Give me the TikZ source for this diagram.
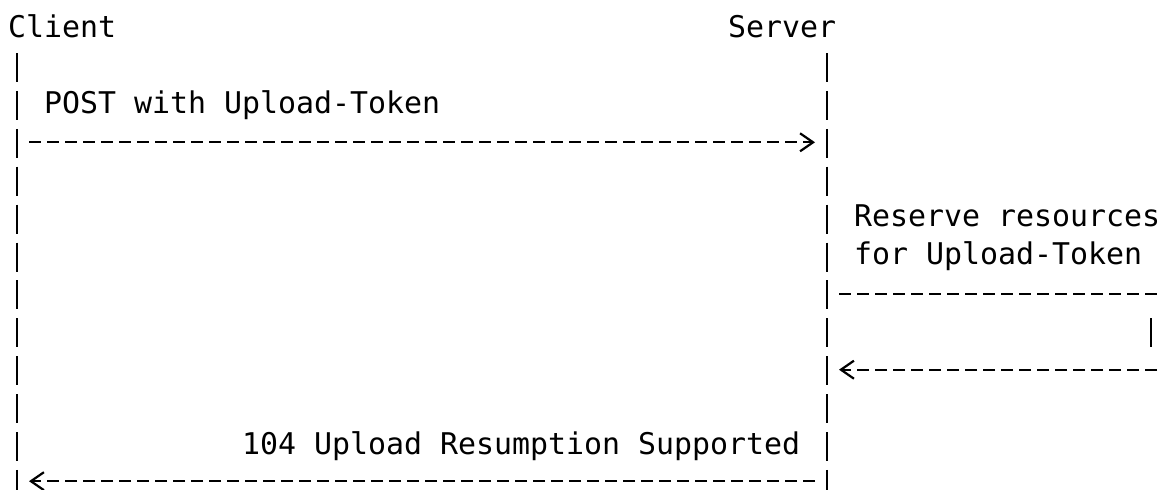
\documentclass[tikz,border=0pt]{standalone}
\usepackage{fontspec}
\newfontfamily\asciifont{DejaVu Sans Mono}
\usetikzlibrary{arrows.meta}
\begin{document}
\begin{tikzpicture}[x=1pt,y=-1pt,
  lbl/.style={font=\asciifont\fontsize{29.9}{36}\selectfont, inner sep=0pt, anchor=base west, text=black},
  lifeline/.style={draw=black, line width=2.8pt, dash pattern=on 29pt off 8.9pt},
  bar/.style={draw=black, line width=2.8pt},
  msg/.style={draw=black, line width=2.2pt, dash pattern=on 12pt off 6pt},
  tipend/.style={-{Straight Barb[length=13pt,width=18pt,line width=2.2pt]}}
]
\useasboundingbox (0,0) rectangle (1168,490);
\fill[white] (0,0) rectangle (1168,490);

% participants
\node[lbl] (client) at (8,37.3) {Client};
\node[lbl] (server) at (728,37.3) {Server};

% lifelines
\coordinate (cTop) at (17,53);
\coordinate (cBot) at (17,490);
\coordinate (sTop) at (827,53);
\coordinate (sBot) at (827,490);
\draw[lifeline] (cTop) -- (cBot);
\draw[lifeline] (sTop) -- (sBot);

% message 1
\node[lbl] (postlbl) at (44,113.1) {POST with Upload-Token};
\coordinate (postA) at (29,142.3);
\coordinate (postB) at (815,142.3);
\draw[msg,tipend] (postA) -- (postB);

% self message
\node[lbl] (res1) at (854,226.8) {Reserve resources};
\node[lbl] (res2) at (854,264.7) {for Upload-Token};
\coordinate (selfA) at (839,293.9);
\coordinate (selfB) at (1157,293.9);
\coordinate (selfC) at (1151,318.3);
\coordinate (selfD) at (1151,347.3);
\coordinate (selfE) at (1157,369.7);
\coordinate (selfF) at (839,369.7);
\draw[msg] (selfA) -- (selfB);
\draw[bar] (selfC) -- (selfD);
\draw[msg,tipend] (selfE) -- (selfF);

% response
\node[lbl] (resp) at (242,454.2) {104 Upload Resumption Supported};
\coordinate (respA) at (815,481.2);
\coordinate (respB) at (29,481.2);
\draw[msg,tipend] (respA) -- (respB);
\end{tikzpicture}
\end{document}
